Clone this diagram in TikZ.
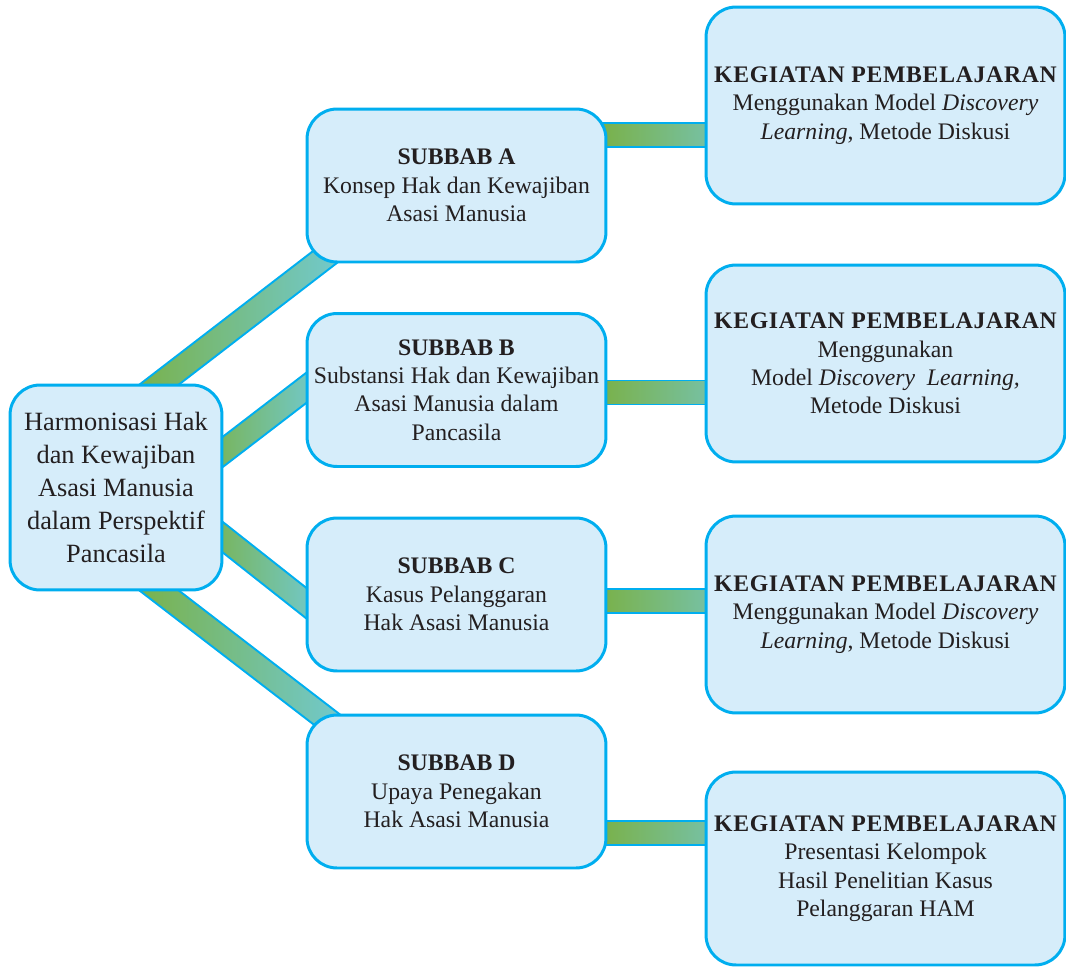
\documentclass[tikz,border=0pt]{standalone}
\usepackage{fontspec}
\setmainfont{Liberation Serif}
\usetikzlibrary{positioning}
\usetikzlibrary{calc}

\definecolor{boxfill}{RGB}{214,237,250}
\definecolor{boxline}{RGB}{0,174,239}
\definecolor{bandgreen}{RGB}{122,176,66}
\definecolor{bandblue}{RGB}{112,205,226}
\definecolor{bandteal}{RGB}{118,194,172}
\definecolor{inktext}{RGB}{35,31,32}

\pgfdeclarelayer{bands}
\pgfsetlayers{bands,main}

\newcommand{\kegiatan}{{\bfseries\addfontfeature{LetterSpace=3}KEGIATAN PEMBELAJARAN}}

\tikzset{
  box/.style={draw=boxline, fill=boxfill, line width=1.7pt, rounded corners=0.6cm, align=center, text=inktext, inner sep=0pt},
  hub/.style={box, minimum width=4.24cm, minimum height=4.1cm, font=\fontsize{15}{18.8}\selectfont},
  subbab/.style={box, minimum width=5.98cm, minimum height=3.06cm, font=\fontsize{13.5}{16.2}\selectfont},
  kegbox/.style={box, minimum width=7.18cm, minimum height=3.94cm, font=\fontsize{13.5}{16.2}\selectfont},
  band/.style={draw=boxline, line width=1.1pt, minimum height=0.48cm, inner sep=0pt, left color=bandgreen},
}

\begin{document}
\begin{tikzpicture}[x=0.02cm, y=-0.02cm]
    \useasboundingbox (0,0) rectangle (1066,968);

    % centre box
    \node (main) [hub] at (116,487.5) {Harmonisasi Hak\\dan Kewajiban\\Asasi Manusia\\dalam Perspektif\\Pancasila};

    % subbab boxes
    \node (subA) [subbab] at (456.5,185.5) {\textbf{SUBBAB A}\\Konsep Hak dan Kewajiban\\Asasi Manusia};
    \node (subB) [subbab] at (456.5,390) {\textbf{SUBBAB B}\\Substansi Hak dan Kewajiban\\Asasi Manusia dalam\\Pancasila};
    \node (subC) [subbab] at (456.5,594.5) {\textbf{SUBBAB C}\\Kasus Pelanggaran\\Hak Asasi Manusia};
    \node (subD) [subbab] at (456.5,791.5) {\textbf{SUBBAB D}\\Upaya Penegakan\\Hak Asasi Manusia};

    % kegiatan boxes
    \node (keg1) [kegbox] at (885.5,105.5) {\kegiatan\\Menggunakan Model \textit{Discovery}\\\textit{Learning}, Metode Diskusi};
    \node (keg2) [kegbox] at (885.5,363.5) {\kegiatan\\Menggunakan\\Model \textit{Discovery\ \ Learning,}\\Metode Diskusi};
    \node (keg3) [kegbox] at (885.5,614.5) {\kegiatan\\Menggunakan Model \textit{Discovery}\\\textit{Learning}, Metode Diskusi};
    \node (keg4) [kegbox, minimum height=3.86cm] at (885.5,868.5) {\kegiatan\\Presentasi Kelompok\\Hasil Penelitian Kasus\\Pelanggaran HAM};

    % band ends, hidden inside the boxes
    \coordinate (hA) at ($(main.north west)+(120,24.6)$);
    \coordinate (sA) at ($(subA.south west)+(59.4,-37.2)$);
    \coordinate (hB) at ($(main.east)+(-23,-18.5)$);
    \coordinate (sB) at ($(subB.west)+(24,-20)$);
    \coordinate (hC) at ($(main.east)+(-23,32.1)$);
    \coordinate (sC) at ($(subC.west)+(24,27)$);
    \coordinate (hD) at ($(main.south west)+(122.5,-22.6)$);
    \coordinate (sD) at ($(subD.north west)+(61.9,37.2)$);
    \coordinate (rA) at ($(subA.east)+(-15,-50.5)$);
    \coordinate (kA) at ($(keg1.west)+(15,29.5)$);
    \coordinate (rB) at ($(subB.east)+(-15,2.5)$);
    \coordinate (kB) at ($(keg2.west)+(15,29)$);
    \coordinate (rC) at ($(subC.east)+(-15,6.5)$);
    \coordinate (kC) at ($(keg3.west)+(15,-13.5)$);
    \coordinate (rD) at ($(subD.east)+(-15,41.5)$);
    \coordinate (kD) at ($(keg4.west)+(15,-35.5)$);

    \begin{pgfonlayer}{bands}
        \foreach \a/\b in {hA/sA, hB/sB, hC/sC, hD/sD}
            \path let \p1=(\a), \p2=(\b), \n1={atan2(\y2-\y1,\x2-\x1)}, \n2={veclen(\x2-\x1,\y2-\y1)} in
                node[band, right color=bandblue, minimum width=\n2, rotate=\n1] at ($(\a)!0.5!(\b)$) {};
        \foreach \a/\b in {rA/kA, rB/kB, rC/kC, rD/kD}
            \path let \p1=(\a), \p2=(\b), \n2={veclen(\x2-\x1,\y2-\y1)} in
                node[band, right color=bandteal, minimum width=\n2] at ($(\a)!0.5!(\b)$) {};
    \end{pgfonlayer}

\end{tikzpicture}
\end{document}
